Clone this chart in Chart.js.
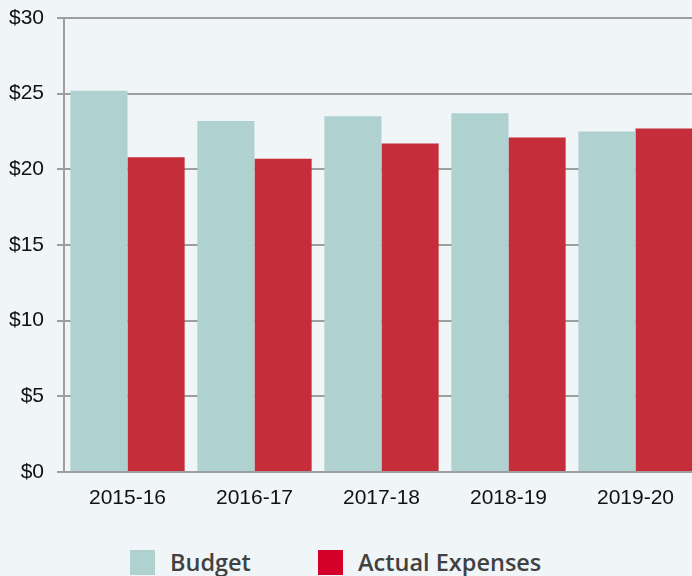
<!DOCTYPE html>
<html>
<head>
<meta charset="utf-8">
<script src="https://cdn.jsdelivr.net/npm/chart.js@4"></script>
<style>
  html, body { margin: 0; padding: 0; background: #f0f5f8; overflow: hidden; }
  #wrap { position: absolute; left: 0; top: 0; width: 699px; height: 512px; }
  .leg { position: absolute; top: 546px; display: flex; align-items: center;
         font-family: "Open Sans", sans-serif; font-weight: 600; font-size: 23.5px; color: #414141; }
  .leg span.box { display: inline-block; width: 25px; height: 25px; margin-right: 15px; }
</style>
</head>
<body>
<div id="wrap"><canvas id="chart"></canvas></div>
<div class="leg" style="left:130px"><span class="box" style="background:#afd1d0"></span>Budget</div>
<div class="leg" style="left:318px"><span class="box" style="background:#d4002a"></span>Actual Expenses</div>
<script>
var years = ['2015-16', '2016-17', '2017-18', '2018-19', '2019-20'];
var budget = [25.2, 23.2, 23.5, 23.7, 22.5];
var actual = [20.8, 20.7, 21.7, 22.1, 22.7];
var yTicks = [0, 5, 10, 15, 20, 25, 30];

function displayChart()
{
    var ctx = document.getElementById('chart').getContext('2d');
    var chart = new Chart(ctx, {
        type: 'bar',
        data: {
            labels: years,
            datasets: [{
                label: 'Budget',
                data: budget,
                backgroundColor: '#afd1d0'
            },
            {
                label: 'Actual Expenses',
                data: actual,
                backgroundColor: '#c62d3a'
            }]
        },
        options:
        {
            responsive: true,
            maintainAspectRatio: false,
            animation: false,
            layout: { padding: { top: 18, left: 0, right: 0, bottom: 0 } },
            datasets: { bar: { categoryPercentage: 0.9, barPercentage: 1.0 } },
            plugins:
            {
                legend: { display: false },
                tooltip: { enabled: false }
            },
            scales:
            {
                x:
                {
                    grid: { display: false, drawTicks: false },
                    border: { color: '#9e9e9e', width: 2 },
                    ticks:
                    {
                        color: '#111',
                        padding: 14,
                        font: { family: 'Liberation Sans', size: 21 }
                    },
                    afterFit: function(s) { s.height = 40; }
                },
                y:
                {
                    min: 0,
                    max: 30,
                    afterBuildTicks: function(s) { s.ticks = yTicks.map(function(v) { return { value: v }; }); },
                    grid: { color: '#9e9e9e', lineWidth: 2, tickLength: 7 },
                    border: { color: '#9e9e9e', width: 2 },
                    ticks:
                    {
                        color: '#111',
                        padding: 13,
                        font: { family: 'Liberation Sans', size: 21 },
                        callback: function(v) { return '$' + v; }
                    },
                    afterFit: function(s) {
                        s.width = 64;
                        s.paddingTop = 0;
                        s.paddingBottom = 0;
                    }
                }
            }
        }
    });
}

window.onload = displayChart;
</script>
</body>
</html>
